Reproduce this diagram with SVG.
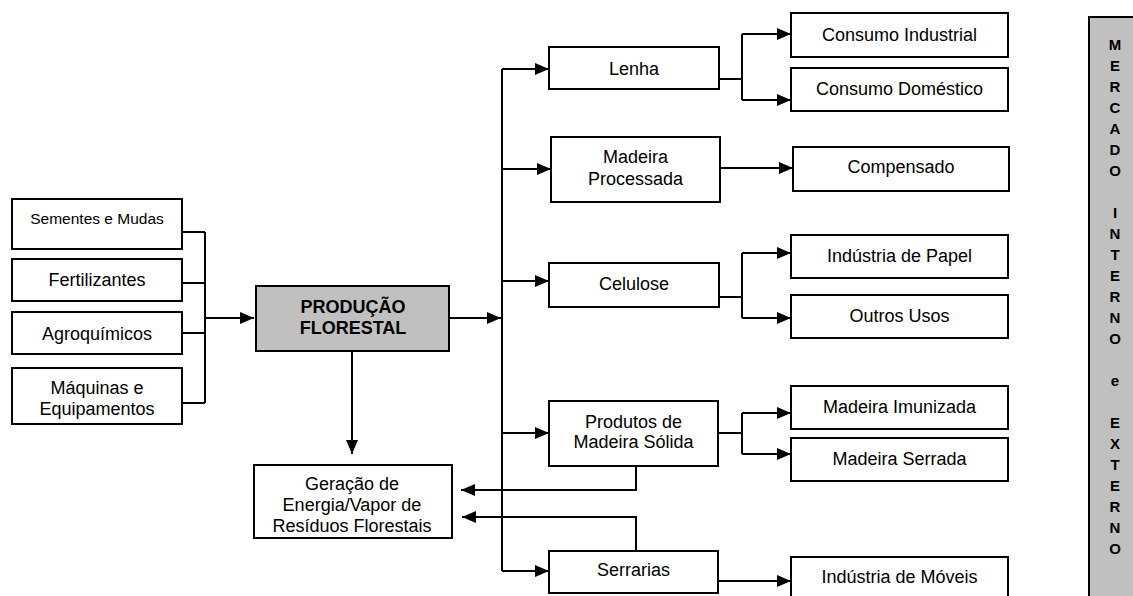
<svg xmlns="http://www.w3.org/2000/svg" width="1133" height="596" viewBox="0 0 1133 596">
<style>
.box{fill:#fff;stroke:#000;stroke-width:2}
.gray{fill:#c0c0c0;stroke:#000;stroke-width:2}
text{font-family:"Liberation Sans",Arial,sans-serif;font-size:18px;fill:#000;text-anchor:middle}
.sm{font-size:15.5px}
.b{font-weight:bold}
.v{font-weight:bold;font-size:15px}
.c path{fill:none;stroke:#000;stroke-width:2}
.c .a{marker-end:url(#ah)}
</style>
<defs>
<marker id="ah" markerUnits="userSpaceOnUse" markerWidth="14" markerHeight="12" refX="14" refY="6" orient="auto">
<path d="M0,0 L14,6 L0,12 z" fill="#000"/>
</marker>
</defs>
<rect width="1133" height="596" fill="#fff"/>

<g class="c" id="connectors">
<path d="M182,232 H205 M182,283 H205 M182,333 H205 M182,403 H205 M205,232 V403"/>
<path class="a" d="M205,318 H254"/>
<path class="a" d="M449,318 H501"/>
<path class="a" d="M352,351 V454"/>
<path d="M502,69 V571"/>
<path class="a" d="M502,69 H549"/>
<path class="a" d="M502,169 H551"/>
<path class="a" d="M502,281 H549"/>
<path class="a" d="M502,433 H549"/>
<path class="a" d="M502,571 H549"/>
<path d="M719,79 H742 M742,34 V100"/>
<path class="a" d="M742,34 H791"/>
<path class="a" d="M742,100 H791"/>
<path class="a" d="M720,168 H793"/>
<path d="M719,297 H742 M742,253 V318"/>
<path class="a" d="M742,253 H791"/>
<path class="a" d="M742,318 H791"/>
<path d="M718,433 H742 M742,413 V454"/>
<path class="a" d="M742,413 H791"/>
<path class="a" d="M742,454 H791"/>
<path class="a" d="M718,581 H791"/>
<path class="a" d="M636,466 V490 H461"/>
<path class="a" d="M636,551 V517 H462"/>
</g>

<g id="sementes"><rect class="box" x="12" y="199" width="170" height="50"/><text class="sm" x="97" y="223.5">Sementes e Mudas</text></g>
<g id="fertilizantes"><rect class="box" x="12" y="259" width="170" height="42"/><text x="97" y="285.5">Fertilizantes</text></g>
<g id="agroquimicos"><rect class="box" x="12" y="312" width="170" height="42"/><text x="97" y="339.5">Agroquímicos</text></g>
<g id="maquinas"><rect class="box" x="12" y="368" width="170" height="56"/><text x="97" y="393.5">Máquinas e</text><text x="97" y="414.5">Equipamentos</text></g>

<g id="producao"><rect class="gray" x="256" y="286" width="193" height="65"/><text class="b" x="353" y="313">PRODUÇÃO</text><text class="b" x="353" y="334">FLORESTAL</text></g>
<g id="geracao"><rect class="box" x="254" y="465" width="198" height="73"/><text x="352" y="489.5">Geração de</text><text x="352" y="510.5">Energia/Vapor de</text><text x="352" y="532">Resíduos Florestais</text></g>

<g id="lenha"><rect class="box" x="549" y="47" width="170" height="42"/><text x="634" y="75">Lenha</text></g>
<g id="madeira-processada"><rect class="box" x="551" y="137" width="169" height="65"/><text x="635.5" y="163">Madeira</text><text x="635.5" y="184.5">Processada</text></g>
<g id="celulose"><rect class="box" x="549" y="263" width="170" height="44"/><text x="634" y="289.5">Celulose</text></g>
<g id="produtos"><rect class="box" x="549" y="401" width="169" height="65"/><text x="633.5" y="428">Produtos de</text><text x="633.5" y="448">Madeira Sólida</text></g>
<g id="serrarias"><rect class="box" x="549" y="551" width="169" height="42"/><text x="633.5" y="576">Serrarias</text></g>

<g id="consumo-industrial"><rect class="box" x="791" y="13" width="217" height="44"/><text x="899.5" y="40.5">Consumo Industrial</text></g>
<g id="consumo-domestico"><rect class="box" x="791" y="68" width="217" height="43"/><text x="899.5" y="94.5">Consumo Doméstico</text></g>
<g id="compensado"><rect class="box" x="793" y="147" width="216" height="44"/><text x="901" y="173">Compensado</text></g>
<g id="industria-papel"><rect class="box" x="791" y="235" width="217" height="43"/><text x="899.5" y="261.5">Indústria de Papel</text></g>
<g id="outros-usos"><rect class="box" x="791" y="295" width="217" height="43"/><text x="899.5" y="321.5">Outros Usos</text></g>
<g id="madeira-imunizada"><rect class="box" x="791" y="386" width="217" height="43"/><text x="899.5" y="412.5">Madeira Imunizada</text></g>
<g id="madeira-serrada"><rect class="box" x="791" y="438" width="217" height="43"/><text x="899.5" y="464.5">Madeira Serrada</text></g>
<g id="industria-moveis"><rect class="box" x="791" y="557" width="217" height="45"/><text x="899.5" y="583">Indústria de Móveis</text></g>

<g id="mercado"><rect class="gray" x="1089" y="17" width="60" height="600"/>
<text class="v" x="1115" y="49.5">M</text>
<text class="v" x="1115" y="70.5">E</text>
<text class="v" x="1115" y="91.5">R</text>
<text class="v" x="1115" y="112.5">C</text>
<text class="v" x="1115" y="133.5">A</text>
<text class="v" x="1115" y="154.5">D</text>
<text class="v" x="1115" y="175.5">O</text>
<text class="v" x="1115" y="217.5">I</text>
<text class="v" x="1115" y="238.5">N</text>
<text class="v" x="1115" y="259.5">T</text>
<text class="v" x="1115" y="280.5">E</text>
<text class="v" x="1115" y="301.5">R</text>
<text class="v" x="1115" y="322.5">N</text>
<text class="v" x="1115" y="343.5">O</text>
<text class="v" x="1115" y="385.5">e</text>
<text class="v" x="1115" y="427.5">E</text>
<text class="v" x="1115" y="448.5">X</text>
<text class="v" x="1115" y="469.5">T</text>
<text class="v" x="1115" y="490.5">E</text>
<text class="v" x="1115" y="511.5">R</text>
<text class="v" x="1115" y="532.5">N</text>
<text class="v" x="1115" y="553.5">O</text>
</g>
</svg>
